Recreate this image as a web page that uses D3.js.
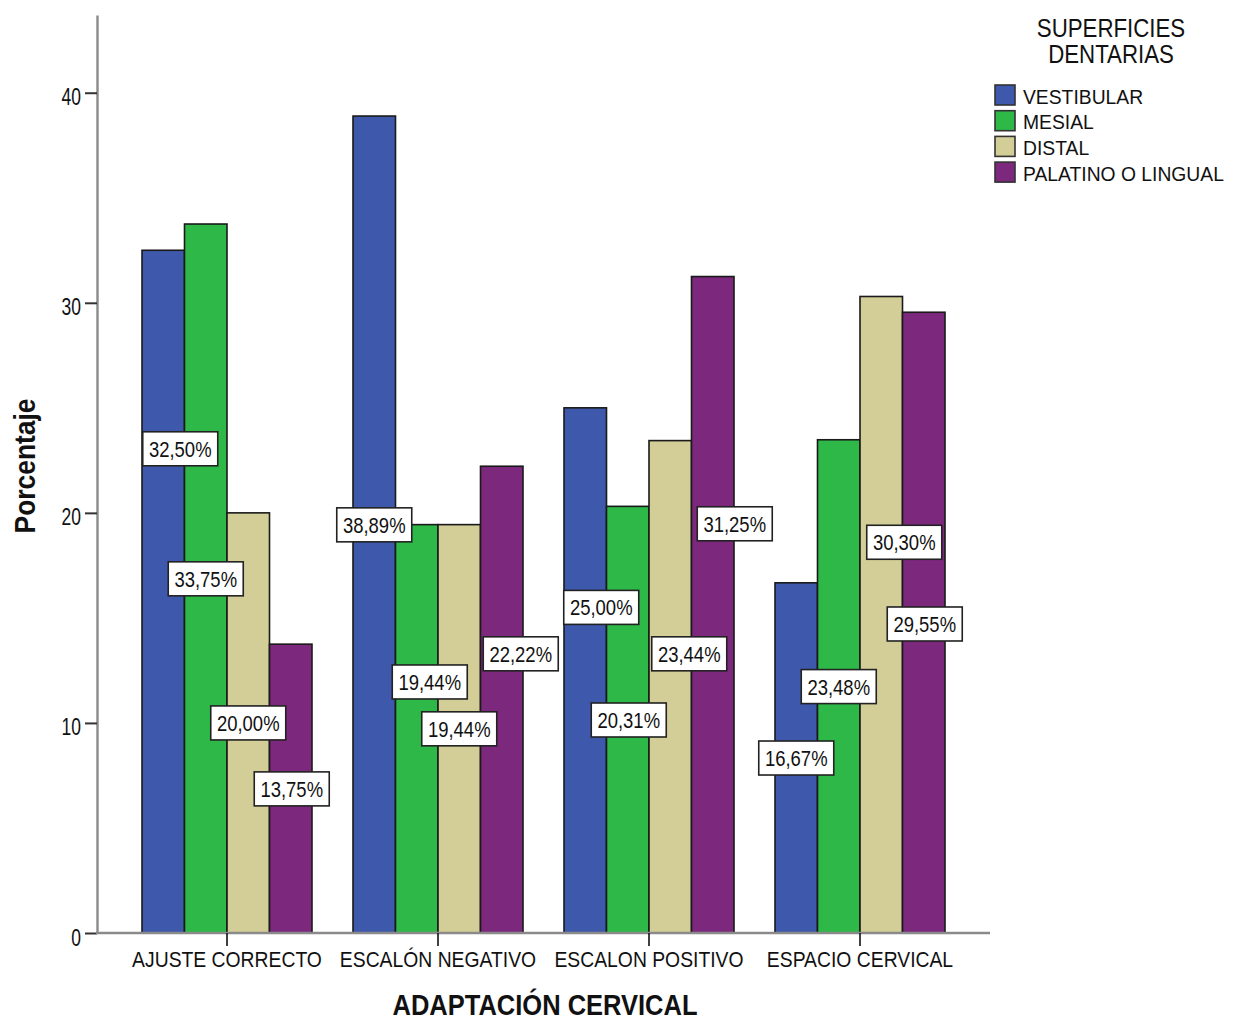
<!DOCTYPE html>
<html><head><meta charset="utf-8">
<script src="https://cdn.jsdelivr.net/npm/d3@7"></script>
<style>html,body{margin:0;padding:0;background:#fff}svg{display:block}text{font-family:"Liberation Sans",Arial,sans-serif;fill:#111}</style>
</head><body>
<svg id="chart" width="1240" height="1020"></svg>
<script>
// ---- data ----
const categories = ["AJUSTE CORRECTO", "ESCALÓN NEGATIVO", "ESCALON POSITIVO", "ESPACIO CERVICAL"];
const seriesNames = ["VESTIBULAR", "MESIAL", "DISTAL", "PALATINO O LINGUAL"];
const vestibular = [32.50, 38.89, 25.00, 16.67];
const mesial     = [33.75, 19.44, 20.31, 23.48];
const distal     = [20.00, 19.44, 23.44, 30.30];
const palatino   = [13.75, 22.22, 31.25, 29.55];
const yTicks = [0, 10, 20, 30, 40];
const legendTitle = ["SUPERFICIES", "DENTARIAS"];
const xTitle = "ADAPTACIÓN CERVICAL";
const yTitle = "Porcentaje";

// ---- styling / layout ----
const colors = ["#3E58AC", "#2EB848", "#D3CE97", "#7C287D"];
// where each value label sits (in axis units) and its horizontal nudge, as placed by the original tool
const labelLevel = [[23.05, 16.86, 10.0, 6.86], [19.43, 11.95, 9.72, 13.29], [15.5, 10.14, 13.29, 19.48], [8.33, 11.73, 18.6, 14.71]];
const labelShift = [[17, 0, 0, 1], [0, 13, 0, 19], [16, 1, 19, 22], [0, 0, 23, 1]];

const series = [vestibular, mesial, distal, palatino];
const plotLeft = 97, plotRight = 990, plotTop = 15, plotBottom = 933;

const svg = d3.select("#chart");
svg.append("rect").attr("width", 1240).attr("height", 1020).attr("fill", "#fff");

const x0 = d3.scaleBand().domain(categories).range([plotLeft + 24.5, plotRight - 24.5])
  .paddingInner(41 / 211).paddingOuter(41 / 211 / 2);
const x1 = d3.scaleBand().domain(seriesNames).range([0, x0.bandwidth()]);
const y = d3.scaleLinear().domain([0, 43.7]).range([plotBottom, plotTop]);

function txt(parent, x, yy, s, size, sx, anchor, weight, rot) {
  return parent.append("text")
    .attr("transform", `translate(${x},${yy})${rot ? ` rotate(${rot})` : ""} scale(${sx},1)`)
    .attr("text-anchor", anchor)
    .style("font-size", size + "px")
    .style("font-weight", weight || "normal")
    .text(s);
}

// bars
const groups = svg.append("g").selectAll("g").data(categories).join("g")
  .attr("transform", c => `translate(${x0(c)},0)`);
groups.selectAll("rect").data((c, ci) => seriesNames.map((s, si) => ({ s, si, ci, v: series[si][ci] })))
  .join("rect")
  .attr("x", d => x1(d.s))
  .attr("width", x1.bandwidth())
  .attr("y", d => y(d.v))
  .attr("height", d => y(0) - y(d.v))
  .attr("fill", d => colors[d.si])
  .attr("stroke", "#1a1a1a").attr("stroke-width", 1.6);

// y axis
const yAxisG = svg.append("g").attr("transform", `translate(${plotLeft},0)`)
  .call(d3.axisLeft(y).tickValues(yTicks).tickSize(12).tickSizeOuter(0));
yAxisG.select(".domain").attr("stroke", "#8a8a8a").attr("stroke-width", 2.4);
yAxisG.selectAll(".tick line").attr("stroke", "#333").attr("stroke-width", 2);
yAxisG.selectAll(".tick text").remove();
yAxisG.selectAll(".tick").each(function (d) {
  txt(d3.select(this), -16, 12, d, 23, 0.76, "end");
});

// x axis
svg.append("line").attr("x1", plotLeft - 1).attr("x2", plotRight).attr("y1", y(0)).attr("y2", y(0))
  .attr("stroke", "#8a8a8a").attr("stroke-width", 2.4);
const xAxisG = svg.append("g").attr("transform", `translate(0,${y(0)})`)
  .call(d3.axisBottom(x0).tickSize(13).tickSizeOuter(0));
xAxisG.select(".domain").remove();
xAxisG.selectAll(".tick line").attr("stroke", "#111").attr("stroke-width", 1.6);
xAxisG.selectAll(".tick text").remove();
xAxisG.selectAll(".tick").each(function (d) {
  txt(d3.select(this), 0, 34, d, 22.5, 0.86, "middle");
});

// axis titles
txt(svg, 545, 1015, xTitle, 30, 0.85, "middle", "bold");
txt(svg, 35, 466, yTitle, 30, 0.88, "middle", "bold", -90);

// value labels
const fmt = v => d3.format(".2f")(v).replace(".", ",") + "%";
const lab = svg.append("g");
categories.forEach((c, ci) => {
  seriesNames.forEach((s, si) => {
    const cx = x0(c) + x1(s) + x1.bandwidth() / 2 + labelShift[ci][si];
    const cy = y(labelLevel[ci][si]);
    const g = lab.append("g").attr("transform", `translate(${cx},${cy})`);
    g.append("rect").attr("x", -37.5).attr("y", -17).attr("width", 75).attr("height", 34)
      .attr("fill", "#fff").attr("stroke", "#222").attr("stroke-width", 1.6);
    txt(g, 0, 8, fmt(series[si][ci]), 22, 0.84, "middle");
  });
});

// legend
const leg = svg.append("g");
txt(leg, 1111, 37, legendTitle[0], 25, 0.89, "middle");
txt(leg, 1111, 63, legendTitle[1], 25, 0.89, "middle");
seriesNames.forEach((s, i) => {
  const yy = 85 + i * 25.7;
  leg.append("rect").attr("x", 995).attr("y", yy).attr("width", 20).attr("height", 20)
    .attr("fill", colors[i]).attr("stroke", "#333").attr("stroke-width", 1.6);
  txt(leg, 1023, yy + 18.5, s, 21, 0.92, "start");
});
</script>
</body></html>
